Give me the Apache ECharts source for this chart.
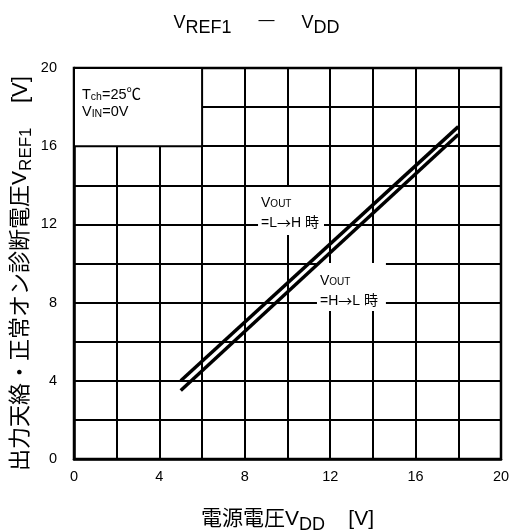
<!DOCTYPE html>
<html>
<head>
<meta charset="utf-8">
<script src="https://cdn.jsdelivr.net/npm/echarts@6/dist/echarts.min.js"></script>
<style>html,body{margin:0;padding:0;background:#fff;}#c{width:513px;height:530px;}</style>
</head>
<body>
<div id="c"></div>
<script>
// ---- data ----
const seriesNames = ['VOUT=L→H 時', 'VOUT=H→L 時'];
const vddLH = [5, 18];
const vrefLH = [4.0, 17.0];
const vddHL = [5, 18];
const vrefHL = [3.5, 16.6];
const xTickLabels = [0, 4, 8, 12, 16, 20];
const yTickLabels = [0, 4, 8, 12, 16, 20];
// condition box (data range) and annotation anchors (data coords, top-left of text box)
const condBoxX = [0, 6];
const condBoxY = [16, 20];
const noteLHAnchor = [8.62, 13.91];
const noteHLAnchor = [11.38, 10.03];

const FONT = "'Liberation Sans', Arial, 'Noto Sans CJK JP', sans-serif";
const CJK = "'Noto Sans CJK JP', sans-serif";
const chart = echarts.init(document.getElementById('c'), null, {renderer: 'canvas'});

const pair = (xs, ys) => xs.map((x, i) => [x, ys[i]]);

const option = {
  backgroundColor: '#fff',
  animation: false,
  title: {
    left: 'center',
    top: 4,
    text: '{v|V}{s|REF1}{m|—}{v|V}{s|DD}',
    textStyle: {
      fontFamily: FONT, fontWeight: 'normal',
      rich: {
        v: {fontSize: 18, color: '#000', fontFamily: FONT, fontWeight: 'normal'},
        s: {fontSize: 18, color: '#000', fontFamily: FONT, fontWeight: 'normal', padding: [10, 0, 0, 0]},
        m: {fontSize: 16, color: '#000', fontFamily: FONT, fontWeight: 'normal', width: 70, align: 'center', padding: [0, 0, 4, 0]}
      }
    }
  },
  grid: {left: 74, right: 12, top: 68, bottom: 71, show: true, borderColor: '#000', borderWidth: 2.5, outerBoundsMode: 'none', containLabel: false},
  xAxis: {
    type: 'value', min: 0, max: 20, interval: 2,
    axisLine: {show: true, lineStyle: {color: '#000', width: 2.5}},
    axisTick: {show: false},
    splitLine: {show: true, lineStyle: {color: '#000', width: 2}},
    axisLabel: {
      color: '#000', fontSize: 14.5, fontFamily: FONT, margin: 11,
      formatter: v => xTickLabels.includes(v) ? String(v) : ''
    },
    name: '{c|電源電圧}{v|V}{s|DD}{c|    [V]}',
    nameLocation: 'middle',
    nameGap: 45,
    nameMoveOverlap: false,
    nameTextStyle: {
      rich: {
        c: {fontSize: 21, color: '#000', fontFamily: FONT},
        v: {fontSize: 21, color: '#000', fontFamily: FONT},
        s: {fontSize: 18, color: '#000', fontFamily: FONT, padding: [12, 0, 0, 0]}
      }
    }
  },
  yAxis: {
    type: 'value', min: 0, max: 20, interval: 2,
    axisLine: {show: true, lineStyle: {color: '#000', width: 2.5}},
    axisTick: {show: false},
    splitLine: {show: true, lineStyle: {color: '#000', width: 2}},
    axisLabel: {
      color: '#000', fontSize: 14.5, fontFamily: FONT, margin: 17,
      formatter: v => yTickLabels.includes(v) ? String(v) : ''
    },
    name: '{c|出力天絡・正常オン診断電圧}{v|V}{s|REF1}{c|    [V]}',
    nameLocation: 'middle',
    nameRotate: 90,
    nameGap: 39,
    nameMoveOverlap: false,
    nameTextStyle: {
      padding: [0, 20, 0, 0],
      rich: {
        c: {fontSize: 22, color: '#000', fontFamily: FONT},
        v: {fontSize: 21, color: '#000', fontFamily: FONT},
        s: {fontSize: 17, color: '#000', fontFamily: FONT, padding: [12, 0, 0, 0]}
      }
    }
  },
  series: [
    {
      name: seriesNames[0], type: 'line', z: 3,
      data: pair(vddLH, vrefLH),
      symbol: 'none',
      lineStyle: {color: '#000', width: 3.5},
      markArea: {
        silent: true, z: 1,
        itemStyle: {color: '#fff', borderColor: '#000', borderWidth: 2, borderType: 'solid'},
        label: {
          show: true, position: 'insideTopLeft', distance: 5, offset: [4, 14],
          formatter: '{t|T}{sub|ch}{t|=25℃}\n{t|V}{sub|IN}{t|=0V}',
          rich: {
            t: {fontSize: 14.5, color: '#000', fontFamily: FONT, lineHeight: 17},
            sub: {fontSize: 10.5, color: '#000', fontFamily: FONT, padding: [6, 0, 0, 0], lineHeight: 17}
          }
        },
        data: [[{coord: [condBoxX[0], condBoxY[0]]}, {coord: [condBoxX[1], condBoxY[1]]}]]
      },
      markPoint: {
        silent: true, z: 1,
        symbol: 'rect', symbolSize: 0,
        label: {
          show: true, position: [0, 0], align: 'left', verticalAlign: 'top',
          backgroundColor: '#fff',
          rich: {
            v: {fontSize: 14, color: '#000', fontFamily: FONT, lineHeight: 20},
            o: {fontSize: 10, color: '#000', fontFamily: FONT, padding: [3, 0, 0, 0], lineHeight: 20},
            t: {fontSize: 14, color: '#000', fontFamily: FONT, lineHeight: 20},
            a: {fontSize: 14, color: '#000', fontFamily: CJK, lineHeight: 20}
          }
        },
        data: [
          {coord: noteLHAnchor, label: {formatter: '{v|V}{o|OUT}\n{t|=L}{a|→}{t|H 時}', padding: [6, 5, 2, 3]}},
          {coord: noteHLAnchor, label: {formatter: '{v|V}{o|OUT}\n{t|=H}{a|→}{t|L 時}', padding: [8, 8, 0, 3]}}
        ]
      }
    },
    {
      name: seriesNames[1], type: 'line', z: 3,
      data: pair(vddHL, vrefHL),
      symbol: 'none',
      lineStyle: {color: '#000', width: 3.5}
    }
  ]
};
chart.setOption(option);
</script>
</body>
</html>
